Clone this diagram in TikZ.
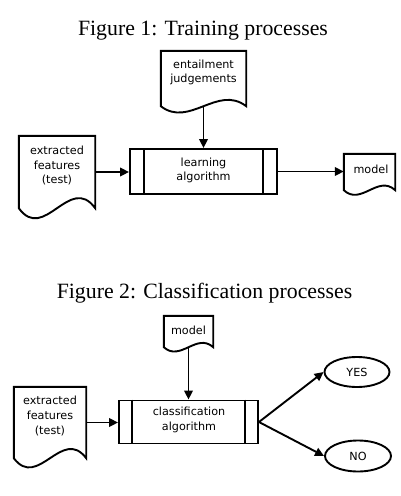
\documentclass[tikz,border=0pt]{standalone}
\usepackage{fontspec}
\setmainfont{Liberation Serif}
\newfontfamily\dejavu{DejaVu Sans}
\usetikzlibrary{calc,arrows.meta,shapes.geometric}
\tikzset{
  shapeline/.style={line width=1.9pt, line join=miter},
  docbox/.style={draw=none, inner sep=0pt, minimum width=#1},
  procbox/.style={draw, line width=1.9pt, inner sep=0pt},
  lbl/.style={font=\dejavu\fontsize{11.2}{14.6}\selectfont, align=center, inner sep=0pt},
  ttl/.style={font=\fontsize{21.8}{24}\selectfont, inner sep=0pt, anchor=base},
  oval/.style={draw, ellipse, line width=1.9pt, inner sep=0pt},
  arr/.style={line width=1.9pt, -{Triangle[length=9pt,width=8.5pt]}},
}
\newcommand\docpath[2]{%
  \draw[shapeline] (#1.south west) -- (#1.north west) -- (#1.north east) -- (#1.south east)
    .. controls ($(#1.south east)!0.3333!(#1.south west)+(0,-#2)$) and ($(#1.south east)!0.6667!(#1.south west)+(0,#2)$) .. (#1.south west) -- cycle;}
\newcommand\procpath[2]{%
  \draw[shapeline] ($(#1.north west)+(#2,0)$) -- ($(#1.south west)+(#2,0)$);
  \draw[shapeline] ($(#1.north east)+(-#2,0)$) -- ($(#1.south east)+(-#2,0)$);}
\begin{document}
\begin{tikzpicture}[x=1pt,y=-1pt]
\useasboundingbox (0,0) rectangle (400,496);
% Figure 1
\node[ttl] (t1) at (203,35) {Figure 1: Training processes};
\node[docbox=85pt, minimum height=55pt] (ent) at (203.5,78.5) {};
\docpath{ent}{22}
\node[lbl] (entT) at (203.5,72.5) {entailment\\judgements};
\node[procbox, minimum width=147pt, minimum height=45pt] (learn) at (203.5,171.5) {};
\procpath{learn}{15}
\node[lbl] (learnT) at (203.5,170.5) {learning\\algorithm};
\node[docbox=76pt, minimum height=72pt] (ext1) at (57,172) {};
\docpath{ext1}{35}
\node[lbl] (ext1T) at (57,165.5) {extracted\\features\\(test)};
\node[docbox=51pt, minimum height=36pt] (mod1) at (369.5,172) {};
\docpath{mod1}{16}
\node[lbl] (mod1T) at (371,169) {model};
\draw[arr] (ent.south) -- (learn.north);
\draw[arr] (ext1.east) -- (ext1.east -| learn.west);
\draw[arr] (learn.east) -- (learn.east -| mod1.west);
% Figure 2
\node[ttl] (t2) at (204.5,298.5) {Figure 2: Classification processes};
\node[docbox=49pt, minimum height=31pt] (mod2) at (188.5,331.5) {};
\docpath{mod2}{15}
\node[lbl] (mod2T) at (188.5,330) {model};
\node[procbox, minimum width=139pt, minimum height=43pt] (cls) at (188.5,422) {};
\procpath{cls}{14}
\node[lbl] (clsT) at (189,420) {classification\\algorithm};
\node[docbox=72pt, minimum height=71pt] (ext2) at (50,422.5) {};
\docpath{ext2}{32}
\node[lbl] (ext2T) at (50,416) {extracted\\features\\(test)};
\node[oval, minimum width=65pt, minimum height=30pt] (yes) at (357,372) {};
\node[lbl] (yesT) at (357,372) {YES};
\node[oval, minimum width=66pt, minimum height=31pt] (no) at (358,456) {};
\node[lbl] (noT) at (358,456) {NO};
\draw[arr] (mod2.south) -- (cls.north);
\draw[arr] (ext2.east) -- (ext2.east -| cls.west);
\draw[arr] (cls.east) -- (yes.west);
\draw[arr] (cls.east) -- (no.west);
\end{tikzpicture}
\end{document}
